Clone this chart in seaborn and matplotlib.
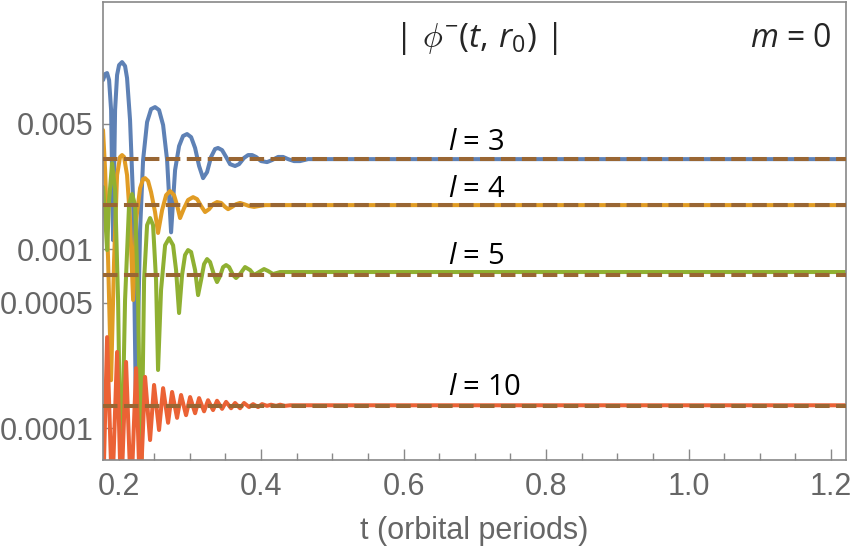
import numpy as np
import pandas as pd
import matplotlib
matplotlib.use("Agg")
import matplotlib.pyplot as plt
import matplotlib.ticker as mticker
import seaborn as sns

# values (t in orbital periods, |phi| on a log axis)
blue_t = [0.1782, 0.1811, 0.1839, 0.1867, 0.1895, 0.1923, 0.1951, 0.1979, 0.2007, 0.2049,
          0.2091, 0.2119, 0.2161, 0.2204, 0.2246, 0.2302, 0.2344, 0.2400, 0.2456, 0.2512,
          0.2568, 0.2625, 0.2681, 0.2737, 0.2793, 0.2849, 0.2905, 0.2961, 0.3018, 0.3074,
          0.3130, 0.3186, 0.3242, 0.3298, 0.3354, 0.3396, 0.3453, 0.3509, 0.3565, 0.3635,
          0.3691, 0.3761, 0.3818, 0.3874, 0.3930, 0.4000, 0.4084, 0.4154, 0.4239, 0.4309,
          0.4379, 0.4463, 0.4547, 0.4660, 0.4828, 1.221]
blue_v = [0.00879, 0.00950, 0.00962, 0.00879, 0.00598, 0.00112, 0.00598, 0.00938, 0.01066, 0.01108,
          0.01053, 0.00902, 0.00526, 0.00188, 0.000107, 0.00128, 0.00314, 0.00512, 0.00605, 0.00621,
          0.00598, 0.00493, 0.00314, 0.00124, 0.00276, 0.00376, 0.00428, 0.00439, 0.00422, 0.00367,
          0.00291, 0.00249, 0.00269, 0.00327, 0.00362, 0.00367, 0.00357, 0.00327, 0.00298, 0.00291,
          0.00298, 0.00323, 0.00335, 0.00335, 0.00327, 0.00310, 0.00306, 0.00314, 0.00327, 0.00327,
          0.00318, 0.00310, 0.00310, 0.00318, 0.00318, 0.00318]

orange_t = [0.1782, 0.1811, 0.1853, 0.1895, 0.1937, 0.1979, 0.2021, 0.2049, 0.2077, 0.2119,
            0.2161, 0.2204, 0.2246, 0.2302, 0.2344, 0.2372, 0.2414, 0.2456, 0.2512, 0.2554,
            0.2611, 0.2667, 0.2723, 0.2779, 0.2821, 0.2863, 0.2919, 0.2975, 0.3046, 0.3102,
            0.3158, 0.3214, 0.3270, 0.3326, 0.3382, 0.3439, 0.3495, 0.3537, 0.3593, 0.3649,
            0.3705, 0.3761, 0.3832, 0.3902, 0.3972, 0.4056, 1.221]
orange_v = [0.00462, 0.00276, 0.000868, 0.000185, 0.000868, 0.00259, 0.00327, 0.00335, 0.00327, 0.00259,
            0.00145, 0.000519, 0.00145, 0.00219, 0.00246, 0.00249, 0.00240, 0.00208, 0.00161, 0.00123,
            0.00165, 0.00200, 0.00211, 0.00200, 0.00176, 0.00149, 0.00169, 0.00188, 0.00195, 0.00190,
            0.00174, 0.00161, 0.00167, 0.00178, 0.00183, 0.00181, 0.00172, 0.00167, 0.00172, 0.00178,
            0.00181, 0.00178, 0.00174, 0.00172, 0.00174, 0.00176, 0.00176]

green_t = [0.1782, 0.1811, 0.1839, 0.1867, 0.1909, 0.1951, 0.1993, 0.2035, 0.2091, 0.2147,
           0.2189, 0.2232, 0.2274, 0.2316, 0.2358, 0.2400, 0.2442, 0.2484, 0.2526, 0.2554,
           0.2596, 0.2653, 0.2709, 0.2765, 0.2807, 0.2849, 0.2891, 0.2933, 0.2975, 0.3018,
           0.3074, 0.3116, 0.3158, 0.3200, 0.3242, 0.3284, 0.3340, 0.3382, 0.3425, 0.3467,
           0.3509, 0.3551, 0.3607, 0.3649, 0.3705, 0.3775, 0.3846, 0.3902, 0.3972, 0.4042,
           0.4098, 0.4168, 0.4267, 0.4407, 1.221]
green_v = [0.00222, 0.00155, 0.000987, 0.00188, 0.00302, 0.00214, 0.000519, 4e-5, 0.000519, 0.00176,
           0.00203, 0.00176, 0.000519, 4e-5, 0.000671, 0.00136, 0.00149, 0.00136, 0.000671, 0.000211,
           0.000590, 0.00105, 0.00115, 0.00105, 0.000763, 0.000439, 0.000716, 0.000926, 0.000987, 0.000962,
           0.000763, 0.000553, 0.000671, 0.000824, 0.000879, 0.000846, 0.000716, 0.000654, 0.000707, 0.000793,
           0.000814, 0.000793, 0.000716, 0.000689, 0.000725, 0.000793, 0.000763, 0.000716, 0.000744, 0.000773,
           0.000754, 0.000725, 0.000744, 0.000744, 0.000744]

red_t = [0.1782, 0.1839, 0.1909, 0.1979, 0.2035, 0.2105, 0.2175, 0.2246, 0.2302, 0.2372,
         0.2442, 0.2498, 0.2568, 0.2625, 0.2695, 0.2751, 0.2821, 0.2877, 0.2947, 0.3004,
         0.3074, 0.3130, 0.3200, 0.3256, 0.3326, 0.3382, 0.3453, 0.3509, 0.3579, 0.3635,
         0.3705, 0.3761, 0.3832, 0.3888, 0.3958, 0.4014, 0.4084, 0.4140, 0.4211, 0.4267,
         0.4337, 0.4407, 1.221]
red_v = [4e-5, 0.000322, 4e-5, 0.000266, 4e-5, 0.000234, 4e-5, 0.000216, 4e-5, 0.000193,
         0.0000857, 0.000174, 0.0000975, 0.000167, 0.000107, 0.000159, 0.000114, 0.000153, 0.000118, 0.000149,
         0.000121, 0.000147, 0.000124, 0.000143, 0.000126, 0.000142, 0.000128, 0.000140, 0.000129, 0.000138,
         0.000129, 0.000138, 0.000131, 0.000136, 0.000131, 0.000136, 0.000133, 0.000135, 0.000133, 0.000135,
         0.000133, 0.000134, 0.000134]

# asymptotic values (dashed) and their labels
ell = [3, 4, 5, 10]
asym_v = [0.00318, 0.00176, 0.000716, 0.000133]
label_v = [0.00396, 0.00216, 0.000914, 0.000169]

yticks = [0.0001, 0.0005, 0.001, 0.005]
ytick_labels = ["0.0001", "0.0005", "0.001", "0.005"]

colors = ["#5e81b5", "#e19c24", "#8fb032", "#eb6235"]
brown = "#996633"
grey = "#666666"

sns.set_style("white")
plt.rcParams["font.family"] = ["Liberation Sans", "DejaVu Sans"]
plt.rcParams["mathtext.fontset"] = "custom"
plt.rcParams["mathtext.it"] = "Open Sans:italic"
plt.rcParams["mathtext.rm"] = "Open Sans"

fig = plt.figure(figsize=(8.53, 5.55), dpi=100)
ax = fig.add_axes([0.1208, 0.1712, 0.8710, 0.8252])

curves = [(blue_t, blue_v), (orange_t, orange_v), (green_t, green_v), (red_t, red_v)]
for (t, v), c in zip(curves, colors):
    df = pd.DataFrame({"t": t, "v": v})
    sns.lineplot(data=df, x="t", y="v", ax=ax, color=c, lw=2.9, sort=False,
                 estimator=None, solid_joinstyle="round", solid_capstyle="round")

for v in asym_v:
    ax.axhline(v, color=brown, lw=2.9, dashes=(3.6, 1.6), zorder=5)

ax.set_yscale("log")
ax.set_xlim(0.1782, 1.221)
ax.set_ylim(6.63e-5, 0.024)

ax.xaxis.set_major_locator(mticker.MultipleLocator(0.2))
ax.xaxis.set_minor_locator(mticker.MultipleLocator(0.05))
ax.xaxis.set_major_formatter(mticker.FormatStrFormatter("%.1f"))
ax.yaxis.set_major_locator(mticker.FixedLocator(yticks))
ax.yaxis.set_major_formatter(mticker.FixedFormatter(ytick_labels))
ax.yaxis.set_minor_locator(mticker.NullLocator())

ax.tick_params(axis="both", which="both", bottom=True, left=True, top=False, right=False)
ax.tick_params(axis="both", which="major", direction="in", length=8, width=1,
               color="#888888", labelcolor=grey, labelsize=22)
ax.tick_params(axis="x", which="minor", direction="in", length=5, width=1, color="#888888")
ax.tick_params(axis="y", pad=7)
ax.tick_params(axis="x", pad=9)

for s in ax.spines.values():
    s.set_color("#888888")
    s.set_linewidth(1.2)

ax.set_xlabel("t (orbital periods)", fontsize=22, color=grey, labelpad=10)
ax.set_ylabel("")

for l, yv in zip(ell, label_v):
    ax.text(0.6627, yv, "$l$ = %d" % l, fontsize=21, family="Open Sans",
            ha="left", va="center", color="black", zorder=6)

ax.text(0.502, 0.921, r"$|\ \phi^{-}(t,\,r_0)\ |$", transform=ax.transAxes,
        fontsize=24, ha="center", va="center")
ax.text(0.981, 0.921, "$m$ = 0", transform=ax.transAxes, family="Open Sans",
        fontsize=23, ha="right", va="center")

fig.savefig("out.png", dpi=100)
